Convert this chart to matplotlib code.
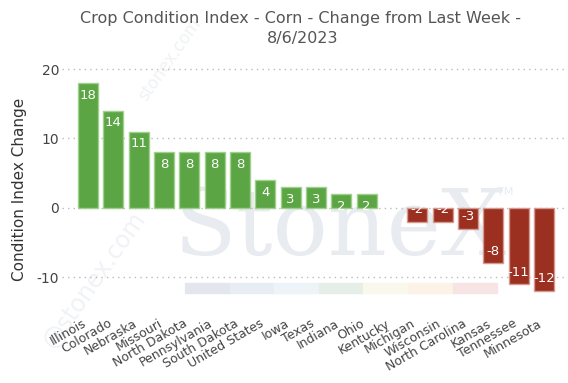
import matplotlib
matplotlib.use("Agg")
import matplotlib.pyplot as plt
import matplotlib.transforms as mtransforms
from matplotlib.patches import Rectangle

states = ["Illinois", "Colorado", "Nebraska", "Missouri", "North Dakota",
          "Pennsylvania", "South Dakota", "United States", "Iowa", "Texas",
          "Indiana", "Ohio", "Kentucky", "Michigan", "Wisconsin",
          "North Carolina", "Kansas", "Tennessee", "Minnesota"]
change = [18, 14, 11, 8, 8, 8, 8, 4, 3, 3, 2, 2, 0, -2, -2, -3, -8, -11, -12]
yticks = [-10, 0, 10, 20]

green, green_edge = "#5ba545", "#9fd08c"
red, red_edge = "#9b2f20", "#d49a90"
grey = "#444444"

fig = plt.figure(figsize=(5.68, 3.83), dpi=100)
W, H = 568, 383
ax = fig.add_axes([62 / W, 1 - 296 / H, (565 - 62) / W, (296 - 58) / H])
ax.set_zorder(2)

# watermark (behind the axes)
fig.text(340 / W, 1 - 255 / H, "StoneX", fontsize=66, family="DejaVu Serif",
         color="#e8ebf0", ha="center", va="baseline", zorder=0)
fig.text(505 / W, 1 - 195 / H, "TM", fontsize=8, color="#e8ebf0", ha="center", zorder=0)
fig.text(95 / W, 1 - 280 / H, "@stonex.com", fontsize=17, color="#f0f2f5",
         rotation=55, ha="center", va="center", zorder=0)
fig.text(170 / W, 1 - 60 / H, "stonex.com", fontsize=12, color="#f0f2f5",
         rotation=55, ha="center", va="center", zorder=0)
strip = ["#e3e7ed", "#e8edf3", "#eef3f7", "#e5eee7", "#f8f9ec", "#fcf3e6", "#f7e4e4"]
for i, c in enumerate(strip):
    fig.patches.append(Rectangle(((185 + i * 44.6) / W, 1 - 293 / H), 44.6 / W, 10 / H,
                                 transform=fig.transFigure, color=c, zorder=0))

x = list(range(len(states)))
colors = [green if v >= 0 else red for v in change]
edges = [green_edge if v > 0 else (red_edge if v < 0 else "none") for v in change]
bars = ax.bar(x, change, width=0.79, color=colors, edgecolor=edges, linewidth=1, zorder=3)

for xi, v, b in zip(x, change, bars):
    if v == 0:
        continue
    off = -1.75 if v > 0 else 1.75
    t = ax.text(xi, v + off, str(v), ha="center", va="center", color="white",
                fontsize=9.5, zorder=4)
    t.set_clip_path(b)

ax.set_xlim(-1.03, 18.83)
ax.set_ylim(-12.7, 21.6)
ax.set_yticks(yticks)
ax.set_yticklabels([str(t) for t in yticks], color=grey, fontsize=10)
ax.yaxis.grid(True, linestyle=(0, (1, 3)), color="#bbbbbb", linewidth=1)
ax.set_axisbelow(True)
ax.set_xticks(x)
ax.set_xticklabels(states, rotation=30, ha="right", rotation_mode="anchor",
                   color=grey, fontsize=9)
ax.tick_params(axis="y", length=0, pad=2)
ax.tick_params(axis="x", length=0, pad=15)
shift = mtransforms.ScaledTranslation(-6 / 100, 0, fig.dpi_scale_trans)
for lab in ax.get_xticklabels():
    lab.set_transform(lab.get_transform() + shift)
for s in ax.spines.values():
    s.set_visible(False)
ax.patch.set_alpha(0)

ax.set_ylabel("Condition Index Change", fontsize=11, color="#333333")
ax.yaxis.set_label_coords(-0.07, 0.45)
fig.text(300 / W, 1 - 18 / H, "Crop Condition Index - Corn - Change from Last Week -",
         ha="center", va="center", fontsize=11.5, color="#555555")
fig.text(303 / W, 1 - 38 / H, "8/6/2023", ha="center", va="center",
         fontsize=11.5, color="#555555")

fig.savefig("out.png", dpi=100)
